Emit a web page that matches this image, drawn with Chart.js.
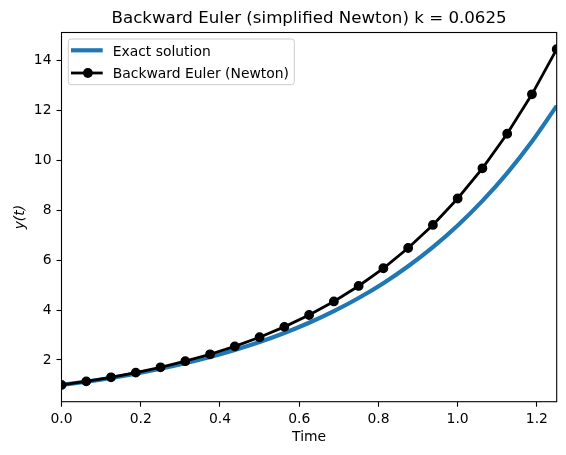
<!DOCTYPE html>
<html>
<head>
<meta charset="utf-8">
<script src="https://cdn.jsdelivr.net/npm/chart.js@4"></script>
<style>
  html, body { margin: 0; padding: 0; background: #fff; }
  #wrap { width: 566px; height: 455px; }
</style>
</head>
<body>
<div id="wrap"><canvas id="eulerChart" width="566" height="455"></canvas></div>
<script>
  // values
  const timeSteps = [0, 0.0625, 0.125, 0.1875, 0.25, 0.3125, 0.375, 0.4375, 0.5, 0.5625,
    0.625, 0.6875, 0.75, 0.8125, 0.875, 0.9375, 1.0, 1.0625, 1.125, 1.1875, 1.25];
  const exactValues = [1.000, 1.133, 1.284, 1.455, 1.649, 1.868, 2.117, 2.399, 2.718, 3.080,
    3.490, 3.955, 4.482, 5.078, 5.755, 6.521, 7.389, 8.373, 9.488, 10.751, 12.182];
  const eulerValues = [1.000, 1.143, 1.306, 1.493, 1.706, 1.950, 2.228, 2.546, 2.910, 3.326,
    3.801, 4.344, 4.965, 5.674, 6.485, 7.411, 8.470, 9.680, 11.063, 12.643, 14.449];
  const xTickValues = [0, 0.2, 0.4, 0.6, 0.8, 1.0, 1.2];
  const yTickValues = [2, 4, 6, 8, 10, 12, 14];
  const seriesLabels = ['Exact solution', 'Backward Euler (Newton)'];
  const chartTitle = 'Backward Euler (simplified Newton) k = 0.0625';

  const FONT = '"DejaVu Sans", "Liberation Sans", sans-serif';
  Chart.defaults.font.family = FONT;
  Chart.defaults.font.size = 13.9;
  Chart.defaults.color = '#000';

  // title centred over the axes, like matplotlib does
  const axesTitle = {
    id: 'axesTitle',
    afterDraw(chart) {
      const { ctx, chartArea } = chart;
      ctx.save();
      ctx.font = '16.67px ' + FONT;
      ctx.fillStyle = '#000';
      ctx.textAlign = 'center';
      ctx.textBaseline = 'alphabetic';
      ctx.fillText(chartTitle, (chartArea.left + chartArea.right) / 2, chartArea.top - 9.5);
      ctx.restore();
    }
  };

  // four spines around the plot
  const axesFrame = {
    id: 'axesFrame',
    afterDatasetsDraw(chart) {
      const { ctx, chartArea } = chart;
      ctx.save();
      ctx.strokeStyle = '#000';
      ctx.lineWidth = 1.1;
      ctx.strokeRect(chartArea.left, chartArea.top, chartArea.right - chartArea.left, chartArea.bottom - chartArea.top);
      ctx.restore();
    }
  };

  // legend box in the upper left corner
  const boxLegend = {
    id: 'boxLegend',
    afterDraw(chart) {
      const { ctx, chartArea } = chart;
      const x0 = chartArea.left + 6.8, y0 = chartArea.top + 6.5;
      const w = 226, h = 45.7, r = 2.8;
      ctx.save();
      ctx.beginPath();
      ctx.roundRect(x0, y0, w, h, r);
      ctx.fillStyle = 'rgba(255,255,255,0.8)';
      ctx.fill();
      ctx.strokeStyle = '#cccccc';
      ctx.lineWidth = 1;
      ctx.stroke();

      chart.data.datasets.forEach((ds, i) => {
        const cy = y0 + 11.3 + i * 22.7;
        ctx.beginPath();
        ctx.moveTo(x0 + 2.7, cy);
        ctx.lineTo(x0 + 34.4, cy);
        ctx.strokeStyle = ds.borderColor;
        ctx.lineWidth = ds.borderWidth;
        ctx.stroke();
        if (ds.pointRadius > 0) {
          ctx.beginPath();
          ctx.arc(x0 + 19.6, cy, ds.pointRadius + ds.pointBorderWidth / 2, 0, Math.PI * 2);
          ctx.fillStyle = ds.pointBackgroundColor;
          ctx.fill();
        }
        ctx.fillStyle = '#000';
        ctx.font = '13.9px ' + FONT;
        ctx.textAlign = 'left';
        ctx.textBaseline = 'alphabetic';
        ctx.fillText(ds.label, x0 + 44.4, cy + 5.2);
      });
      ctx.restore();
    }
  };

  document.addEventListener("DOMContentLoaded", () => {
    const ctx = document.getElementById('eulerChart').getContext('2d');
    new Chart(ctx, {
      type: 'line',
      data: {
        datasets: [
          {
            label: seriesLabels[0],
            data: timeSteps.map((t, i) => ({ x: t, y: exactValues[i] })),
            borderColor: '#1f77b4',
            backgroundColor: '#1f77b4',
            borderWidth: 4.2,
            pointRadius: 0,
            cubicInterpolationMode: 'monotone',
            clip: 0,
            order: 2
          },
          {
            label: seriesLabels[1],
            data: timeSteps.map((t, i) => ({ x: t, y: eulerValues[i] })),
            borderColor: '#000',
            backgroundColor: '#000',
            pointBackgroundColor: '#000',
            pointBorderColor: '#000',
            borderWidth: 2.8,
            pointRadius: 4.2,
            pointBorderWidth: 1.4,
            tension: 0,
            clip: 0,
            order: 1
          }
        ]
      },
      options: {
        responsive: false,
        animation: false,
        layout: { padding: { top: 32.5, right: 9.3, left: 0, bottom: 0 } },
        plugins: {
          legend: { display: false },
          tooltip: { enabled: false }
        },
        scales: {
          x: {
            type: 'linear',
            min: 0,
            max: 1.25,
            afterBuildTicks: (scale) => { scale.ticks = xTickValues.map(v => ({ value: v })); },
            afterFit: (scale) => { scale.height = 53.3; },
            ticks: {
              callback: (v) => v.toFixed(1),
              padding: 4,
              maxRotation: 0,
              autoSkip: false
            },
            grid: { drawOnChartArea: false, drawTicks: true, tickLength: 5, tickColor: '#000', tickWidth: 1.1 },
            border: { display: false },
            title: { display: true, text: 'Time', padding: { top: 0, bottom: 9.7 } }
          },
          y: {
            type: 'linear',
            min: 0.328,
            max: 15.12,
            afterBuildTicks: (scale) => { scale.ticks = yTickValues.map(v => ({ value: v })); },
            afterFit: (scale) => { scale.width = 61.5; },
            ticks: { padding: 5, autoSkip: false },
            grid: { drawOnChartArea: false, drawTicks: true, tickLength: 5, tickColor: '#000', tickWidth: 1.1 },
            border: { display: false },
            title: { display: true, text: 'y(t)', font: { style: 'italic' }, padding: { top: 11.7, bottom: 0 } }
          }
        }
      },
      plugins: [axesFrame, axesTitle, boxLegend]
    });
  });
</script>
</body>
</html>
